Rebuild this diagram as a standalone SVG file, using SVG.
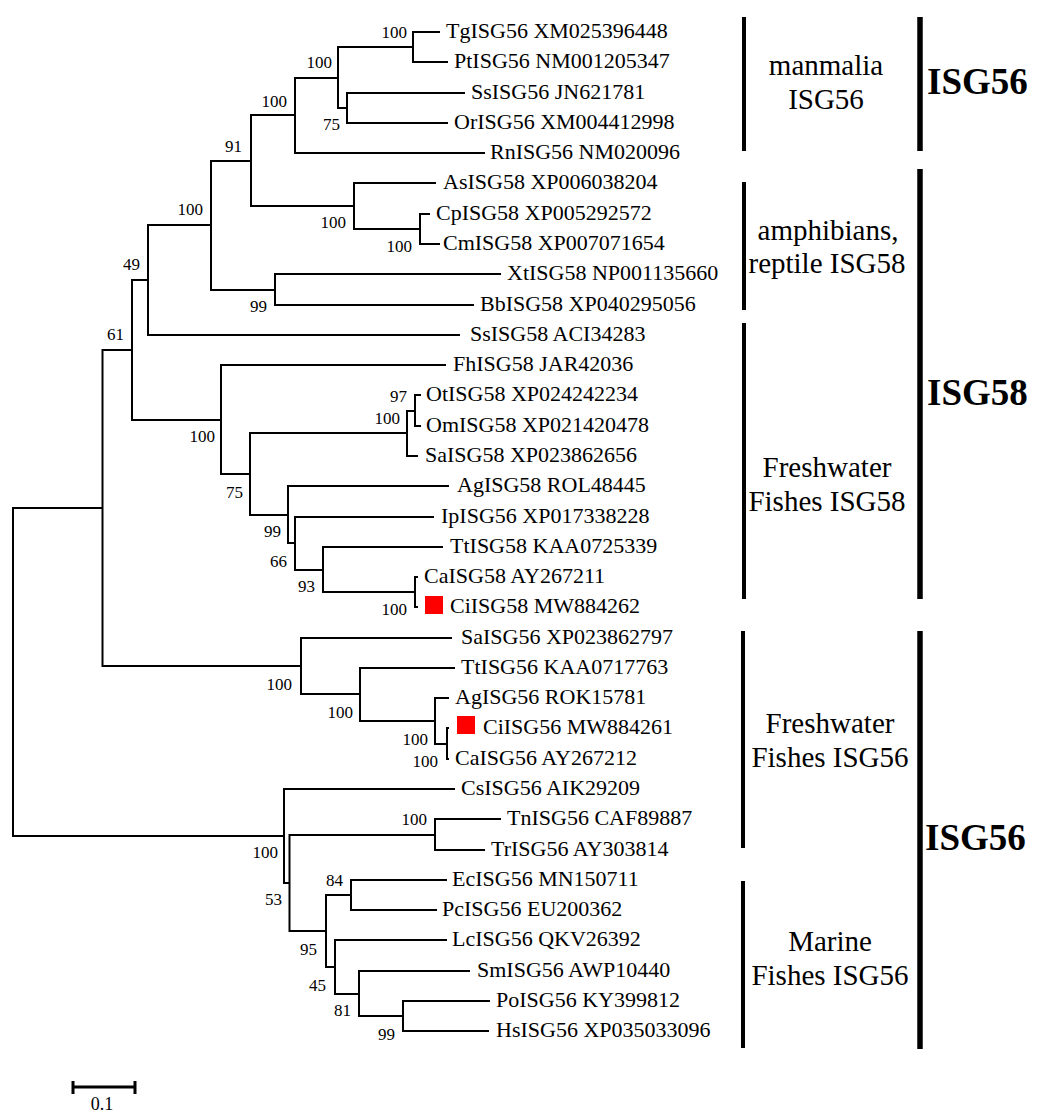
<svg xmlns="http://www.w3.org/2000/svg" width="1050" height="1119" viewBox="0 0 1050 1119">
<style>
.br{fill:none;stroke:#000;stroke-width:2}
.lf{font-family:"Liberation Serif","Times New Roman",serif;font-size:22px;fill:#000}
.bs{font-family:"Liberation Serif","Times New Roman",serif;font-size:17px;fill:#000;text-anchor:end}
.grp{font-family:"Liberation Serif","Times New Roman",serif;font-size:29px;fill:#000;text-anchor:middle}
.big{font-family:"Liberation Serif","Times New Roman",serif;font-size:37px;font-weight:bold;fill:#000}
.thin{stroke:#000;stroke-width:4}
.thick{stroke:#000;stroke-width:5.5}
.mark{fill:#ff0000}
</style>
<rect width="1050" height="1119" fill="#fff"/>
<g id="connectors">
<path class="br" d="M440,32 H413 V62 H448"/>
<path class="br" d="M465,93 H347 V123 H448"/>
<path class="br" d="M413,47 H338 V108 H347"/>
<path class="br" d="M338,78 H295 V153 H485"/>
<path class="br" d="M430,214 H420 V244 H440"/>
<path class="br" d="M436,183 H354 V229 H420"/>
<path class="br" d="M295,115 H251 V206 H354"/>
<path class="br" d="M501,274 H275 V305 H474"/>
<path class="br" d="M251,161 H211 V290 H275"/>
<path class="br" d="M211,225 H148 V335 H460"/>
<path class="br" d="M421,395 H415 V426 H421"/>
<path class="br" d="M415,411 H407 V456 H418"/>
<path class="br" d="M418,577 H415 V607 H418"/>
<path class="br" d="M443,547 H323 V592 H415"/>
<path class="br" d="M434,517 H295 V570 H323"/>
<path class="br" d="M449,486 H288 V543 H295"/>
<path class="br" d="M407,433 H250 V515 H288"/>
<path class="br" d="M446,365 H221 V474 H250"/>
<path class="br" d="M148,280 H132 V420 H221"/>
<path class="br" d="M449,728 H447 V759 H449"/>
<path class="br" d="M449,698 H435 V744 H447"/>
<path class="br" d="M455,668 H360 V721 H435"/>
<path class="br" d="M452,638 H301 V694 H360"/>
<path class="br" d="M132,350 H102.5 V666 H301"/>
<path class="br" d="M501,819 H435 V850 H485"/>
<path class="br" d="M447,880 H351 V910 H437"/>
<path class="br" d="M490,1001 H403 V1031 H489"/>
<path class="br" d="M470,971 H359 V1016 H403"/>
<path class="br" d="M447,940 H335 V994 H359"/>
<path class="br" d="M351,895 H326 V967 H335"/>
<path class="br" d="M435,835 H289.5 V931 H326"/>
<path class="br" d="M455,789 H284 V883 H289.5"/>
<path class="br" d="M102.5,508 H13 V836 H284"/>
</g>
<g id="bootstrap">
<text class="bs" x="407" y="38">100</text>
<text class="bs" x="332" y="68">100</text>
<text class="bs" x="340" y="130">75</text>
<text class="bs" x="287" y="107">100</text>
<text class="bs" x="242" y="152">91</text>
<text class="bs" x="203" y="215">100</text>
<text class="bs" x="346" y="228">100</text>
<text class="bs" x="412" y="252">100</text>
<text class="bs" x="140" y="270">49</text>
<text class="bs" x="267" y="312">99</text>
<text class="bs" x="124" y="340">61</text>
<text class="bs" x="407" y="402">97</text>
<text class="bs" x="400" y="424">100</text>
<text class="bs" x="215" y="442">100</text>
<text class="bs" x="243" y="498">75</text>
<text class="bs" x="281" y="537">99</text>
<text class="bs" x="287" y="567">66</text>
<text class="bs" x="315" y="592">93</text>
<text class="bs" x="407" y="615">100</text>
<text class="bs" x="292" y="690">100</text>
<text class="bs" x="353" y="718">100</text>
<text class="bs" x="428" y="745">100</text>
<text class="bs" x="438" y="767">100</text>
<text class="bs" x="427" y="825">100</text>
<text class="bs" x="278" y="858">100</text>
<text class="bs" x="343" y="886">84</text>
<text class="bs" x="282" y="905">53</text>
<text class="bs" x="317" y="955">95</text>
<text class="bs" x="326" y="991">45</text>
<text class="bs" x="351" y="1016">81</text>
<text class="bs" x="395" y="1040">99</text>
</g>
<g id="leaves">
<g id="leaf-TgISG56"><text class="lf" x="446" y="38">TgISG56 XM025396448</text></g>
<g id="leaf-PtISG56"><text class="lf" x="454" y="68">PtISG56 NM001205347</text></g>
<g id="leaf-SsISG56"><text class="lf" x="471" y="99">SsISG56 JN621781</text></g>
<g id="leaf-OrISG56"><text class="lf" x="454" y="129">OrISG56 XM004412998</text></g>
<g id="leaf-RnISG56"><text class="lf" x="490" y="159">RnISG56 NM020096</text></g>
<g id="leaf-AsISG58"><text class="lf" x="443" y="189">AsISG58 XP006038204</text></g>
<g id="leaf-CpISG58"><text class="lf" x="436" y="220">CpISG58 XP005292572</text></g>
<g id="leaf-CmISG58"><text class="lf" x="443" y="250">CmISG58 XP007071654</text></g>
<g id="leaf-XtISG58"><text class="lf" x="507" y="280">XtISG58 NP001135660</text></g>
<g id="leaf-BbISG58"><text class="lf" x="480" y="311">BbISG58 XP040295056</text></g>
<g id="leaf-SsISG58"><text class="lf" x="470" y="341">SsISG58 ACI34283</text></g>
<g id="leaf-FhISG58"><text class="lf" x="453" y="371">FhISG58 JAR42036</text></g>
<g id="leaf-OtISG58"><text class="lf" x="426" y="401">OtISG58 XP024242234</text></g>
<g id="leaf-OmISG58"><text class="lf" x="426" y="432">OmISG58 XP021420478</text></g>
<g id="leaf-SaISG58"><text class="lf" x="425" y="462">SaISG58 XP023862656</text></g>
<g id="leaf-AgISG58"><text class="lf" x="457" y="492">AgISG58 ROL48445</text></g>
<g id="leaf-IpISG56"><text class="lf" x="441" y="523">IpISG56 XP017338228</text></g>
<g id="leaf-TtISG58"><text class="lf" x="450" y="553">TtISG58 KAA0725339</text></g>
<g id="leaf-CaISG58"><text class="lf" x="424" y="583">CaISG58 AY267211</text></g>
<g id="leaf-CiISG58"><rect class="mark" x="425" y="596" width="18" height="18"/><text class="lf" x="450" y="613">CiISG58 MW884262</text></g>
<g id="leaf-SaISG56"><text class="lf" x="461" y="644">SaISG56 XP023862797</text></g>
<g id="leaf-TtISG56"><text class="lf" x="461" y="674">TtISG56 KAA0717763</text></g>
<g id="leaf-AgISG56"><text class="lf" x="455" y="704">AgISG56 ROK15781</text></g>
<g id="leaf-CiISG56"><rect class="mark" x="457" y="716" width="18" height="18"/><text class="lf" x="483" y="734">CiISG56 MW884261</text></g>
<g id="leaf-CaISG56"><text class="lf" x="455" y="765">CaISG56 AY267212</text></g>
<g id="leaf-CsISG56"><text class="lf" x="461" y="795">CsISG56 AIK29209</text></g>
<g id="leaf-TnISG56"><text class="lf" x="507" y="825">TnISG56 CAF89887</text></g>
<g id="leaf-TrISG56"><text class="lf" x="491" y="856">TrISG56 AY303814</text></g>
<g id="leaf-EcISG56"><text class="lf" x="452" y="886">EcISG56 MN150711</text></g>
<g id="leaf-PcISG56"><text class="lf" x="442" y="916">PcISG56 EU200362</text></g>
<g id="leaf-LcISG56"><text class="lf" x="452" y="946">LcISG56 QKV26392</text></g>
<g id="leaf-SmISG56"><text class="lf" x="477" y="977">SmISG56 AWP10440</text></g>
<g id="leaf-PoISG56"><text class="lf" x="496" y="1007">PoISG56 KY399812</text></g>
<g id="leaf-HsISG56"><text class="lf" x="496" y="1037">HsISG56 XP035033096</text></g>
</g>
<g id="groups">
<line class="thin" x1="744" y1="17" x2="744" y2="151"/>
<line class="thin" x1="744" y1="182" x2="744" y2="310"/>
<line class="thin" x1="744" y1="323" x2="744" y2="599"/>
<line class="thin" x1="743" y1="631" x2="743" y2="848"/>
<line class="thin" x1="743" y1="881" x2="743" y2="1048"/>
<line class="thick" x1="920" y1="17" x2="920" y2="151"/>
<line class="thick" x1="920" y1="169" x2="920" y2="599"/>
<line class="thick" x1="920" y1="631" x2="920" y2="1049"/>
<text class="grp" x="826" y="75">manmalia</text>
<text class="grp" x="826" y="109">ISG56</text>
<text class="grp" x="828" y="240">amphibians,</text>
<text class="grp" x="827" y="273">reptile ISG58</text>
<text class="grp" x="827" y="477">Freshwater</text>
<text class="grp" x="827" y="511">Fishes ISG58</text>
<text class="grp" x="830" y="733">Freshwater</text>
<text class="grp" x="830" y="767">Fishes ISG56</text>
<text class="grp" x="830" y="951">Marine</text>
<text class="grp" x="830" y="985">Fishes ISG56</text>
<text class="big" x="927" y="94">ISG56</text>
<text class="big" x="927" y="405">ISG58</text>
<text class="big" x="925" y="850">ISG56</text>
</g>
<g id="scale">
<path class="br" style="stroke-width:3" d="M73,1087 H135 M73,1081 V1094 M135,1081 V1094"/>
<text x="102" y="1110" style="font-family:'Liberation Serif','Times New Roman',serif;font-size:18px;text-anchor:middle">0.1</text>
</g>
</svg>
